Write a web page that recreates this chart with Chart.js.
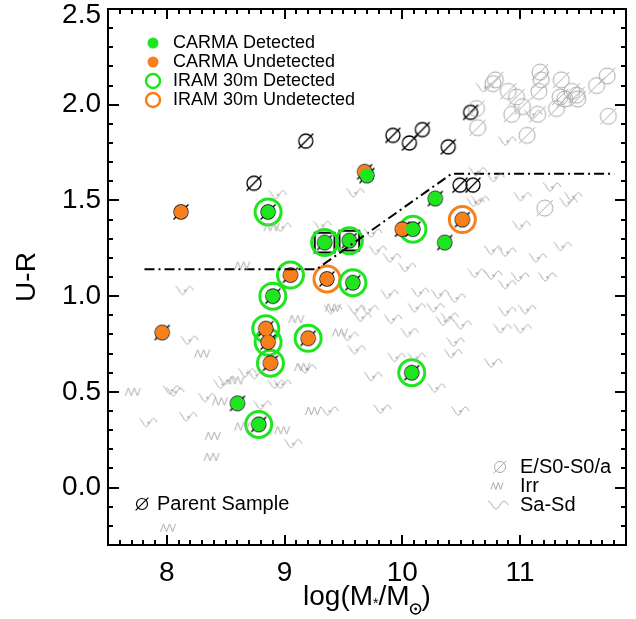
<!DOCTYPE html>
<html>
<head>
<meta charset="utf-8">
<script src="https://cdn.jsdelivr.net/npm/chart.js@4.4.0/dist/chart.umd.min.js"></script>
<style>
  html, body { margin: 0; background: #fff; }
</style>
</head>
<body>
<canvas id="chart" width="636" height="619"></canvas>
<script>
const FONT = '"Liberation Sans", Arial, Helvetica, sans-serif';

// Axis ticks
const xTicks = [8, 9, 10, 11];
const yTicks = [0.0, 0.5, 1.0, 1.5, 2.0, 2.5];

// Colour cut (dash-dot)
const cutX = [7.81, 9.27, 10.42, 11.80];
const cutY = [1.14, 1.14, 1.64, 1.64];

// Parent sample (black, not observed)
const parentX = [8.74, 9.18, 9.92, 10.06, 10.17, 10.39, 10.58, 10.49, 10.60];
const parentY = [1.59, 1.81, 1.84, 1.80, 1.87, 1.78, 1.96, 1.58, 1.58];

// CARMA
const carmaDetX = [8.86, 9.70, 10.28, 9.34, 9.55, 9.58, 8.90, 10.09, 10.36, 10.08, 8.60, 8.78];
const carmaDetY = [1.44, 1.63, 1.51, 1.28, 1.29, 1.07, 1.00, 1.35, 1.28, 0.60, 0.44, 0.33];
const carmaUndX = [8.12, 9.68, 9.05, 9.36, 10.51, 10.00, 7.96, 8.84, 8.86, 8.88, 9.20];
const carmaUndY = [1.44, 1.65, 1.11, 1.09, 1.40, 1.35, 0.81, 0.83, 0.76, 0.65, 0.78];

// IRAM 30m
const iramDetX = [8.86, 9.34, 9.55, 9.58, 8.90, 9.05, 10.09, 10.08, 8.78, 8.84, 8.86, 8.88, 9.20];
const iramDetY = [1.44, 1.28, 1.29, 1.07, 1.00, 1.11, 1.35, 0.60, 0.33, 0.83, 0.76, 0.65, 0.78];
const iramUndX = [9.36, 10.51];
const iramUndY = [1.09, 1.40];

// boxed galaxies
const boxX = [9.34, 9.55];
const boxY = [1.28, 1.29];

// background comparison sample
const esoX = [10.79, 10.77, 10.90, 10.97, 11.02, 10.93, 10.63, 10.64, 11.06, 11.17, 11.18, 11.16,
              11.15, 11.35, 11.34, 11.38, 11.31, 11.44, 11.48, 11.49, 11.65, 11.74, 11.75, 11.21];
const esoY = [2.13, 2.11, 2.07, 2.04, 1.99, 1.95, 1.98, 1.88, 1.84, 2.17, 2.13, 2.07,
              1.95, 2.13, 2.04, 2.03, 1.98, 2.07, 2.05, 2.03, 2.10, 2.15, 1.94, 1.46];

const irrX = [8.89, 8.64, 8.30, 9.10, 9.47, 9.15, 8.59, 7.71, 8.45, 8.39, 8.38, 8.64, 8.98, 9.24, 8.01, 9.41];
const irrY = [1.36, 1.16, 0.70, 0.88, 0.81, 0.63, 0.56, 0.50, 0.45, 0.27, 0.16, 0.32, 0.30, 0.40, -0.21, 0.94];

const sasdX = [8.94, 9.60, 10.70, 11.11, 10.89, 10.64, 10.79, 11.02, 11.27, 11.45, 11.41, 10.66,
               8.98, 9.32, 8.15, 8.19, 9.41, 9.61, 9.66, 9.55, 9.61, 9.19, 8.68, 8.51, 8.76, 8.98, 8.07,
               10.62, 11.01, 10.77, 10.89, 11.15, 11.36, 10.63, 10.77, 11.00, 11.23, 10.89,
               10.04, 9.91, 9.75, 10.15, 10.32, 10.46, 9.89, 9.72, 10.12, 10.28, 10.40, 10.36, 10.51,
               10.89, 11.06, 9.92, 10.85, 11.02, 10.06, 10.45, 10.43, 9.95, 10.12, 10.77, 9.75, 10.29,
               9.83, 10.49, 8.04, 8.34, 8.47, 7.84, 8.18, 8.81, 8.93, 9.07, 9.38, 9.79];
const sasdY = [1.53, 1.54, 2.09, 1.95, 1.81, 1.65, 1.62, 1.52, 1.57, 1.52, 1.49, 1.50,
               1.36, 1.37, 1.03, 0.77, 0.93, 0.93, 0.89, 0.79, 0.72, 0.62, 0.60, 0.56, 0.59, 0.54, 0.50,
               1.49, 1.37, 1.24, 1.23, 1.20, 1.26, 1.12, 1.11, 1.10, 1.10, 1.06,
               1.15, 1.20, 1.33, 1.02, 1.01, 0.99, 1.01, 0.93, 0.94, 0.94, 0.89, 0.87, 0.85,
               0.92, 0.93, 0.88, 0.83, 0.83, 0.81, 0.76, 0.70, 0.68, 0.68, 0.65, 0.58, 0.52,
               0.41, 0.40, 0.51, 0.47, 0.54, 0.34, 0.37, 0.43, 0.54, 0.23, 0.40, 1.24];

const GREEN = '#1ee61e';
const ORANGE = '#f7801c';
const GRAY = '#aaaaaa';

function pairs(xs, ys) {
  return xs.map((x, i) => ({ x: x, y: ys[i] }));
}

// --- marker glyphs drawn onto small canvases ---
function slashCircle(g, color, r, lw) {
  g.strokeStyle = color;
  g.lineWidth = lw;
  g.beginPath();
  g.arc(0, 0, r, 0, Math.PI * 2);
  g.stroke();
  const e = r * 0.707 + 2.5;
  g.beginPath();
  g.moveTo(-e, e);
  g.lineTo(e, -e);
  g.stroke();
}

function zigzag(g, color, w, h) {
  g.strokeStyle = color;
  g.lineWidth = 1;
  g.beginPath();
  for (let i = 0; i <= 5; i++) {
    const px = -w / 2 + i * w / 5;
    const py = (i % 2 === 0) ? h / 2 : -h / 2;
    if (i === 0) g.moveTo(px, py); else g.lineTo(px, py);
  }
  g.stroke();
}

function wave(g, color, w, h) {
  g.strokeStyle = color;
  g.lineWidth = 1;
  g.beginPath();
  for (let i = 0; i <= 30; i++) {
    const u = i / 30;
    const px = -w / 2 + u * w;
    const py = -h / 2 * Math.cos(u * 2.5 * Math.PI);
    if (i === 0) g.moveTo(px, py); else g.lineTo(px, py);
  }
  g.stroke();
}

function glyph(size, draw) {
  const c = document.createElement('canvas');
  c.width = size;
  c.height = size;
  const g = c.getContext('2d');
  g.translate(size / 2, size / 2);
  draw(g);
  return c;
}

const grayPhi = glyph(24, g => slashCircle(g, GRAY, 8, 1));
const blackPhi = glyph(22, g => slashCircle(g, '#000', 7, 1.3));
const irrMark = glyph(22, g => zigzag(g, GRAY, 15, 8));
const sasdMark = glyph(24, g => {
  wave(g, GRAY, 18, 8);
  g.fillStyle = '#555';
  g.fillRect(-0.5, -0.5, 1.2, 1.2);
});

function scatterSet(data, extra) {
  return Object.assign({ data: data, showLine: false }, extra);
}

// --- frame, inward ticks, labels, legends and axis titles ---
const framePlugin = {
  id: 'frame',
  afterDraw(chart) {
    const ctx = chart.ctx;
    const a = chart.chartArea;
    const xs = chart.scales.x, ys = chart.scales.y;
    ctx.save();
    ctx.fillStyle = '#000';
    for (let k = 76; k <= 118; k++) {
      const px = Math.round(xs.getPixelForValue(k / 10));
      const len = k % 10 === 0 ? 10 : 5;
      ctx.fillRect(px - 1, a.bottom - len, 2, len);
      ctx.fillRect(px - 1, a.top, 2, len);
    }
    for (let k = -2; k <= 24; k++) {
      const py = Math.round(ys.getPixelForValue(k / 10));
      const len = k % 5 === 0 ? 11 : 5;
      ctx.fillRect(a.left, py - 1, len, 2);
      ctx.fillRect(a.right - len, py - 1, len, 2);
    }
    ctx.strokeStyle = '#000';
    ctx.lineWidth = 2;
    ctx.strokeRect(a.left, a.top, a.right - a.left, a.bottom - a.top);

    // tick labels
    ctx.font = '28px ' + FONT;
    ctx.textAlign = 'right';
    ctx.textBaseline = 'middle';
    yTicks.forEach(v => {
      const py = ys.getPixelForValue(v);
      ctx.fillText(v.toFixed(1), a.left - 7, Math.max(py, a.top + 6));
    });
    ctx.textAlign = 'center';
    xTicks.forEach(v => {
      ctx.fillText(String(v), xs.getPixelForValue(v), a.bottom + 28);
    });

    // legend: observed samples
    ctx.textAlign = 'left';
    ctx.font = '18px ' + FONT;
    const rows = [43, 62, 81, 100];
    const names = ['CARMA Detected', 'CARMA Undetected', 'IRAM 30m Detected', 'IRAM 30m Undetected'];
    rows.forEach((ry, i) => {
      ctx.beginPath();
      ctx.arc(153, ry, i < 2 ? 5.5 : 7, 0, Math.PI * 2);
      if (i < 2) {
        ctx.fillStyle = i === 0 ? GREEN : ORANGE;
        ctx.fill();
      } else {
        ctx.strokeStyle = i === 2 ? GREEN : ORANGE;
        ctx.lineWidth = 2.5;
        ctx.stroke();
      }
      ctx.fillStyle = '#000';
      ctx.fillText(names[i], 173, ry);
    });

    // legend: parent sample
    ctx.font = '20px ' + FONT;
    ctx.save();
    ctx.translate(142, 504);
    slashCircle(ctx, '#000', 5.5, 1.2);
    ctx.restore();
    ctx.fillText('Parent Sample', 157, 504);

    // legend: morphology
    ctx.save(); ctx.translate(500, 467); slashCircle(ctx, GRAY, 5.5, 1); ctx.restore();
    ctx.save(); ctx.translate(497, 486); zigzag(ctx, GRAY, 12, 7); ctx.restore();
    ctx.save(); ctx.translate(498, 505); wave(ctx, GRAY, 20, 8); ctx.restore();
    ctx.fillStyle = '#000';
    ctx.fillText('E/S0-S0/a', 520, 467);
    ctx.fillText('Irr', 520, 486);
    ctx.fillText('Sa-Sd', 520, 505);

    // y title
    ctx.font = '28px ' + FONT;
    ctx.save();
    ctx.translate(27, (a.top + a.bottom) / 2);
    ctx.rotate(-Math.PI / 2);
    ctx.textAlign = 'center';
    ctx.fillText('U-R', 0, 0);
    ctx.restore();

    // x title: log(M*/M⊙) with subscripts
    const base = 605;
    const big = '28px ' + FONT, small = '14px ' + FONT;
    ctx.textBaseline = 'alphabetic';
    ctx.textAlign = 'left';
    ctx.font = big;
    const w1 = ctx.measureText('log(M').width;
    const w3 = ctx.measureText('/M').width;
    const w5 = ctx.measureText(')').width;
    ctx.font = small;
    const w2 = ctx.measureText('*').width;
    const w4 = 12;
    const total = w1 + w2 + w3 + w4 + w5;
    let cx = (a.left + a.right) / 2 - total / 2;
    ctx.font = big;
    ctx.fillText('log(M', cx, base); cx += w1;
    ctx.font = small;
    ctx.fillText('*', cx, base + 3); cx += w2;
    ctx.font = big;
    ctx.fillText('/M', cx, base); cx += w3;
    ctx.beginPath();
    ctx.strokeStyle = '#000';
    ctx.lineWidth = 1.6;
    ctx.arc(cx + 6, base + 4, 5, 0, Math.PI * 2);
    ctx.stroke();
    ctx.beginPath();
    ctx.arc(cx + 6, base + 4, 1.4, 0, Math.PI * 2);
    ctx.fill();
    cx += w4;
    ctx.fillText(')', cx, base);
    ctx.restore();
  }
};

new Chart(document.getElementById('chart'), {
  type: 'scatter',
  data: {
    datasets: [
      scatterSet(pairs(sasdX, sasdY), { pointStyle: sasdMark, pointRadius: 10 }),
      scatterSet(pairs(irrX, irrY), { pointStyle: irrMark, pointRadius: 10 }),
      scatterSet(pairs(esoX, esoY), { pointStyle: grayPhi, pointRadius: 10 }),
      {
        data: pairs(cutX, cutY), showLine: true, pointRadius: 0,
        borderColor: '#000', borderWidth: 2, borderDash: [10, 4, 2, 4], fill: false
      },
      scatterSet(pairs(carmaDetX, carmaDetY), {
        pointStyle: 'circle', pointRadius: 7, backgroundColor: GREEN, borderWidth: 0
      }),
      scatterSet(pairs(carmaUndX, carmaUndY), {
        pointStyle: 'circle', pointRadius: 7, backgroundColor: ORANGE, borderWidth: 0
      }),
      scatterSet(pairs(parentX, parentY).concat(pairs(carmaDetX, carmaDetY), pairs(carmaUndX, carmaUndY)), {
        pointStyle: blackPhi, pointRadius: 10
      }),
      scatterSet(pairs(iramDetX, iramDetY), {
        pointStyle: 'circle', pointRadius: 13, backgroundColor: 'rgba(0,0,0,0)',
        borderColor: GREEN, borderWidth: 3
      }),
      scatterSet(pairs(iramUndX, iramUndY), {
        pointStyle: 'circle', pointRadius: 13, backgroundColor: 'rgba(0,0,0,0)',
        borderColor: ORANGE, borderWidth: 3
      }),
      scatterSet(pairs(boxX, boxY), {
        pointStyle: 'rect', pointRadius: 14, backgroundColor: 'rgba(0,0,0,0)',
        borderColor: '#000', borderWidth: 2
      })
    ]
  },
  options: {
    responsive: false,
    devicePixelRatio: 1,
    animation: false,
    events: [],
    layout: { autoPadding: false, padding: { top: 9, right: 10, left: 0, bottom: 0 } },
    plugins: { legend: { display: false }, tooltip: { enabled: false } },
    scales: {
      x: {
        type: 'linear', min: 7.5, max: 11.9,
        afterBuildTicks: s => { s.ticks = xTicks.map(v => ({ value: v })); },
        afterFit: s => { s.height = 74; },
        ticks: { display: false },
        grid: { display: false, drawTicks: false },
        border: { display: false }
      },
      y: {
        type: 'linear', min: -0.3, max: 2.5,
        afterBuildTicks: s => { s.ticks = yTicks.map(v => ({ value: v })); },
        afterFit: s => { s.width = 108; },
        ticks: { display: false },
        grid: { display: false, drawTicks: false },
        border: { display: false }
      }
    }
  },
  plugins: [framePlugin]
});
</script>
</body>
</html>
